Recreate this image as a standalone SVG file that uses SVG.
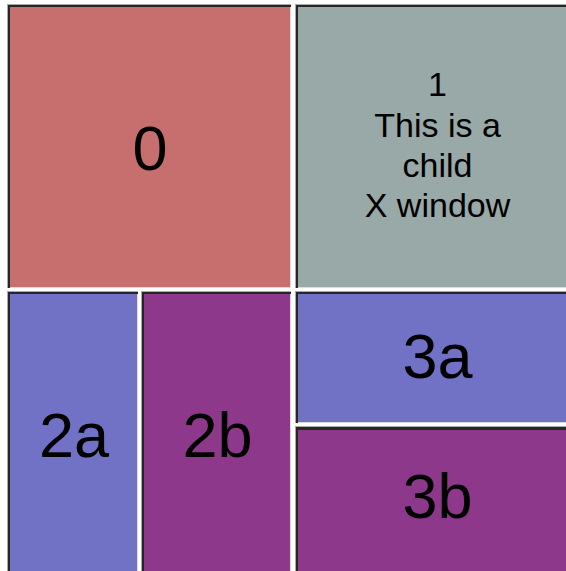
<svg xmlns="http://www.w3.org/2000/svg" width="566" height="571" viewBox="0 0 566 571">
<style>
.edge{fill:#a9a9a9}
.dark{fill:#262626}
.hi{fill:#dcdcdc}
.red{fill:#c76f6f}
.teal{fill:#98a9a8}
.blue{fill:#7171c6}
.purple{fill:#8e388c}
text{font-family:"Liberation Sans","DejaVu Sans",sans-serif;fill:#000;text-anchor:middle}
.big{font-size:63px}
.small{font-size:34px}
</style>
<rect width="566" height="571" fill="#ffffff"/>
<g id="pane0">
<rect class="edge" x="7" y="4" width="284" height="284"/>
<rect class="dark" x="8" y="5" width="283" height="283"/>
<rect class="hi" x="10" y="7" width="281" height="281"/>
<rect class="red" x="10" y="7" width="280" height="280"/>
<text class="big" x="150" y="170">0</text>
</g>
<g id="pane1">
<rect class="edge" x="295" y="4" width="290" height="284"/>
<rect class="dark" x="296" y="5" width="290" height="283"/>
<rect class="hi" x="298" y="7" width="290" height="281"/>
<rect class="teal" x="298" y="7" width="290" height="280"/>
<text class="small" x="437.5" y="96">1</text>
<text class="small" x="437.5" y="137">This is a</text>
<text class="small" x="437.5" y="177">child</text>
<text class="small" x="437.5" y="217">X window</text>
</g>
<g id="pane2a">
<rect class="edge" x="7" y="291" width="131" height="290"/>
<rect class="dark" x="8" y="292" width="130" height="290"/>
<rect class="hi" x="10" y="294" width="128" height="290"/>
<rect class="blue" x="10" y="294" width="127" height="290"/>
<text class="big" x="74" y="457">2a</text>
</g>
<g id="pane2b">
<rect class="edge" x="141" y="291" width="150" height="290"/>
<rect class="dark" x="142" y="292" width="149" height="290"/>
<rect class="hi" x="144" y="294" width="147" height="290"/>
<rect class="purple" x="144" y="294" width="146" height="290"/>
<text class="big" x="217.5" y="457">2b</text>
</g>
<g id="pane3a">
<rect class="edge" x="295" y="291" width="290" height="132"/>
<rect class="dark" x="296" y="292" width="290" height="131"/>
<rect class="hi" x="298" y="294" width="290" height="129"/>
<rect class="blue" x="298" y="294" width="290" height="128"/>
<text class="big" x="437.5" y="378">3a</text>
</g>
<g id="pane3b">
<rect class="edge" x="295" y="426" width="290" height="160"/>
<rect class="dark" x="296" y="427" width="290" height="160"/>
<rect class="hi" x="298" y="430" width="290" height="160"/>
<rect class="purple" x="298" y="430" width="290" height="160"/>
<text class="big" x="437.5" y="518">3b</text>
</g>
<g id="connectors"/>
</svg>
